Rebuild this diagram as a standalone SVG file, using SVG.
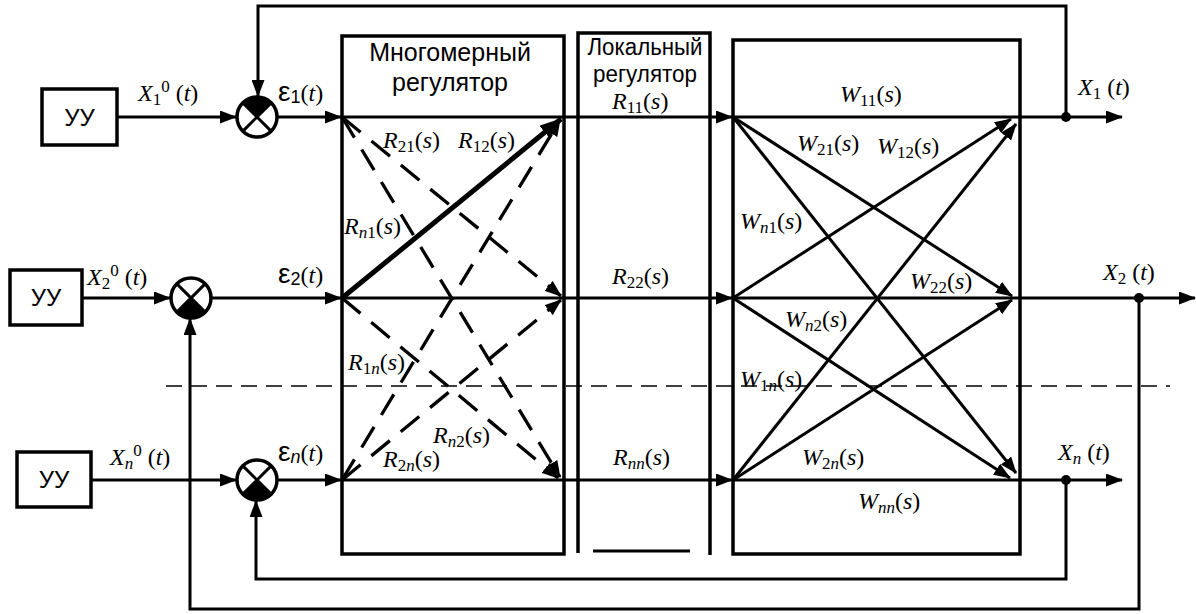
<svg xmlns="http://www.w3.org/2000/svg" width="1196" height="614" viewBox="0 0 1196 614">
<style>
.ln{fill:none;stroke:#000;stroke-width:3}
.bx{fill:none;stroke:#000;stroke-width:3.5}
.ds{fill:none;stroke:#000;stroke-width:3.3;stroke-dasharray:24 14}
.th{fill:none;stroke:#000;stroke-width:5}
.hd{fill:none;stroke:#000;stroke-width:1.5;stroke-dasharray:16 9}
.m{font-family:"Liberation Serif","Times New Roman",serif;font-size:24px;fill:#000}
.i{font-style:italic}
.sb{font-size:17px}
.sn{font-family:"Liberation Sans",Arial,sans-serif;fill:#000}
.eps{font-size:28px}
.es{font-size:18px}
</style>
<defs>
<marker id="ah" viewBox="0 0 17 13" refX="16" refY="6.5" markerWidth="17" markerHeight="13" markerUnits="userSpaceOnUse" orient="auto"><path d="M0,0 L17,6.5 L0,13 z" fill="#000"/></marker>
<marker id="ahb" viewBox="0 0 22 17" refX="21" refY="8.5" markerWidth="22" markerHeight="17" markerUnits="userSpaceOnUse" orient="auto"><path d="M0,0 L22,8.5 L0,17 z" fill="#000"/></marker>
</defs>
<rect width="1196" height="614" fill="#fff"/>

<!-- boxes -->
<g id="uu1"><rect class="bx" x="42" y="89" width="75" height="56"/><text class="sn" x="79.5" y="126" font-size="24" text-anchor="middle">УУ</text></g>
<g id="uu2"><rect class="bx" x="10" y="270" width="72" height="55"/><text class="sn" x="46" y="306" font-size="24" text-anchor="middle">УУ</text></g>
<g id="uun"><rect class="bx" x="17" y="452" width="74" height="55"/><text class="sn" x="54" y="488" font-size="24" text-anchor="middle">УУ</text></g>

<g id="sum1"><circle cx="257" cy="117" r="20" fill="#fff" stroke="#000" stroke-width="3.5"/><path d="M257,117 L242.9,102.9 A20,20 0 0 1 271.1,102.9 Z" fill="#000"/><path class="ln" d="M242.9,102.9 L271.1,131.1 M271.1,102.9 L242.9,131.1"/></g>
<g id="sum2"><circle cx="191" cy="298" r="20" fill="#fff" stroke="#000" stroke-width="3.5"/><path d="M191,298 L205.1,312.1 A20,20 0 0 1 176.9,312.1 Z" fill="#000"/><path class="ln" d="M176.9,283.9 L205.1,312.1 M205.1,283.9 L176.9,312.1"/></g>
<g id="sumn"><circle cx="257" cy="480" r="20" fill="#fff" stroke="#000" stroke-width="3.5"/><path d="M257,480 L271.1,494.1 A20,20 0 0 1 242.9,494.1 Z" fill="#000"/><path class="ln" d="M242.9,465.9 L271.1,494.1 M271.1,465.9 L242.9,494.1"/></g>

<g id="reg-multi"><rect class="bx" x="342" y="36" width="222" height="518"/>
<text class="sn" x="450" y="61" font-size="25" text-anchor="middle">Многомерный</text>
<text class="sn" x="450" y="91" font-size="25" text-anchor="middle">регулятор</text></g>

<g id="reg-local"><path class="bx" d="M578,553 V33 H710 V555"/><path class="ln" d="M593,551 H690"/>
<text class="sn" x="645" y="55" font-size="23" text-anchor="middle" textLength="115" lengthAdjust="spacingAndGlyphs">Локальный</text>
<text class="sn" x="645" y="82" font-size="23" text-anchor="middle" textLength="104" lengthAdjust="spacingAndGlyphs">регулятор</text></g>

<g id="plant"><rect class="bx" x="733" y="40" width="287" height="514"/></g>

<!-- connectors -->
<g id="connectors">
<path class="hd" d="M166,386 H1170"/>
<!-- row 1 -->
<path class="ln" d="M117,117 H236" marker-end="url(#ah)"/>
<path class="ln" d="M278,117 H341" marker-end="url(#ah)"/>
<path class="ln" d="M342,117 H732" marker-end="url(#ah)"/>
<path class="ln" d="M733,117 H1122" marker-end="url(#ah)"/>
<!-- row 2 -->
<path class="ln" d="M82,298 H170" marker-end="url(#ah)"/>
<path class="ln" d="M212,298 H341" marker-end="url(#ah)"/>
<path class="ln" d="M342,298 H732" marker-end="url(#ah)"/>
<path class="ln" d="M733,298 H1195" marker-end="url(#ah)"/>
<!-- row n -->
<path class="ln" d="M91,480 H236" marker-end="url(#ah)"/>
<path class="ln" d="M278,480 H341" marker-end="url(#ah)"/>
<path class="ln" d="M342,480 H732" marker-end="url(#ah)"/>
<path class="ln" d="M733,480 H1122" marker-end="url(#ah)"/>
<!-- feedback -->
<path class="ln" d="M1066,117 V6 H258 V96" marker-end="url(#ah)"/>
<path class="ln" d="M1139,298 V609 H190 V319" marker-end="url(#ah)"/>
<path class="ln" d="M1066,480 V579 H256 V501" marker-end="url(#ah)"/>
<circle cx="1066" cy="117" r="5"/>
<circle cx="1139" cy="298" r="5"/>
<circle cx="1066" cy="480" r="5"/>
<!-- multivariable regulator cross links -->
<path class="th" d="M342,298 L561,119" marker-end="url(#ahb)"/>
<path class="ds" d="M342,117 L561,296" marker-end="url(#ah)"/>
<path class="ds" d="M342,117 L560,477" marker-end="url(#ah)"/>
<path class="ds" d="M342,298 L558,478" marker-end="url(#ah)"/>
<path class="ds" d="M342,480 L561,300" marker-end="url(#ah)"/>
<path class="ds" d="M342,480 L560,120" marker-end="url(#ah)"/>
<!-- plant cross links -->
<path class="ln" d="M733,117 L1012,296" marker-end="url(#ah)"/>
<path class="ln" d="M733,117 L1016,473" marker-end="url(#ah)"/>
<path class="ln" d="M733,298 L1011,119" marker-end="url(#ah)"/>
<path class="ln" d="M733,298 L1010,478" marker-end="url(#ah)"/>
<path class="ln" d="M733,480 L1016,124" marker-end="url(#ah)"/>
<path class="ln" d="M733,480 L1012,300" marker-end="url(#ah)"/>
</g>

<!-- labels -->
<g id="labels">
<text class="m" x="138" y="101"><tspan class="i">X</tspan><tspan class="sb" dy="4">1</tspan><tspan class="sb" dy="-13">0</tspan><tspan dy="9"> (</tspan><tspan class="i">t</tspan>)</text>
<text class="m" x="87" y="285"><tspan class="i">X</tspan><tspan class="sb" dy="4">2</tspan><tspan class="sb" dy="-13">0</tspan><tspan dy="9"> (</tspan><tspan class="i">t</tspan>)</text>
<text class="m" x="110" y="465"><tspan class="i">X</tspan><tspan class="sb i" dy="4">n</tspan><tspan class="sb" dy="-13">0</tspan><tspan dy="9"> (</tspan><tspan class="i">t</tspan>)</text>

<text class="m" x="278" y="101"><tspan class="sn eps">ε</tspan><tspan class="sn es" dy="2">1</tspan><tspan dy="-2">(</tspan><tspan class="i">t</tspan>)</text>
<text class="m" x="278" y="283"><tspan class="sn eps">ε</tspan><tspan class="sn es" dy="2">2</tspan><tspan dy="-2">(</tspan><tspan class="i">t</tspan>)</text>
<text class="m" x="278" y="461"><tspan class="sn eps">ε</tspan><tspan class="sn es i" dy="2">n</tspan><tspan dy="-2">(</tspan><tspan class="i">t</tspan>)</text>

<text class="m" x="383" y="148"><tspan class="i">R</tspan><tspan class="sb" dy="4">21</tspan><tspan dy="-4">(</tspan><tspan class="i">s</tspan>)</text>
<text class="m" x="458" y="148"><tspan class="i">R</tspan><tspan class="sb" dy="4">12</tspan><tspan dy="-4">(</tspan><tspan class="i">s</tspan>)</text>
<text class="m" x="344" y="234"><tspan class="i">R</tspan><tspan class="sb" dy="4"><tspan class="i">n</tspan>1</tspan><tspan dy="-4">(</tspan><tspan class="i">s</tspan>)</text>
<text class="m" x="348" y="370"><tspan class="i">R</tspan><tspan class="sb" dy="4">1<tspan class="i">n</tspan></tspan><tspan dy="-4">(</tspan><tspan class="i">s</tspan>)</text>
<text class="m" x="433" y="443"><tspan class="i">R</tspan><tspan class="sb" dy="4"><tspan class="i">n</tspan>2</tspan><tspan dy="-4">(</tspan><tspan class="i">s</tspan>)</text>
<text class="m" x="383" y="467"><tspan class="i">R</tspan><tspan class="sb" dy="4">2<tspan class="i">n</tspan></tspan><tspan dy="-4">(</tspan><tspan class="i">s</tspan>)</text>

<text class="m" x="612" y="109"><tspan class="i">R</tspan><tspan class="sb" dy="4">11</tspan><tspan dy="-4">(</tspan><tspan class="i">s</tspan>)</text>
<text class="m" x="612" y="284"><tspan class="i">R</tspan><tspan class="sb" dy="4">22</tspan><tspan dy="-4">(</tspan><tspan class="i">s</tspan>)</text>
<text class="m" x="613" y="465"><tspan class="i">R</tspan><tspan class="sb i" dy="4">nn</tspan><tspan dy="-4">(</tspan><tspan class="i">s</tspan>)</text>

<text class="m" x="840" y="102"><tspan class="i">W</tspan><tspan class="sb" dy="4">11</tspan><tspan dy="-4">(</tspan><tspan class="i">s</tspan>)</text>
<text class="m" x="797" y="151"><tspan class="i">W</tspan><tspan class="sb" dy="4">21</tspan><tspan dy="-4">(</tspan><tspan class="i">s</tspan>)</text>
<text class="m" x="877" y="154"><tspan class="i">W</tspan><tspan class="sb" dy="4">12</tspan><tspan dy="-4">(</tspan><tspan class="i">s</tspan>)</text>
<text class="m" x="740" y="229"><tspan class="i">W</tspan><tspan class="sb" dy="4"><tspan class="i">n</tspan>1</tspan><tspan dy="-4">(</tspan><tspan class="i">s</tspan>)</text>
<text class="m" x="910" y="289"><tspan class="i">W</tspan><tspan class="sb" dy="4">22</tspan><tspan dy="-4">(</tspan><tspan class="i">s</tspan>)</text>
<text class="m" x="785" y="327"><tspan class="i">W</tspan><tspan class="sb" dy="4"><tspan class="i">n</tspan>2</tspan><tspan dy="-4">(</tspan><tspan class="i">s</tspan>)</text>
<text class="m" x="740" y="387"><tspan class="i">W</tspan><tspan class="sb" dy="4">1<tspan class="i">n</tspan></tspan><tspan dy="-4">(</tspan><tspan class="i">s</tspan>)</text>
<text class="m" x="802" y="465"><tspan class="i">W</tspan><tspan class="sb" dy="4">2<tspan class="i">n</tspan></tspan><tspan dy="-4">(</tspan><tspan class="i">s</tspan>)</text>
<text class="m" x="858" y="509"><tspan class="i">W</tspan><tspan class="sb i" dy="4">nn</tspan><tspan dy="-4">(</tspan><tspan class="i">s</tspan>)</text>

<text class="m" x="1078" y="95"><tspan class="i">X</tspan><tspan class="sb" dy="4">1</tspan><tspan dy="-4"> (</tspan><tspan class="i">t</tspan>)</text>
<text class="m" x="1103" y="280"><tspan class="i">X</tspan><tspan class="sb" dy="4">2</tspan><tspan dy="-4"> (</tspan><tspan class="i">t</tspan>)</text>
<text class="m" x="1058" y="460"><tspan class="i">X</tspan><tspan class="sb i" dy="4">n</tspan><tspan dy="-4"> (</tspan><tspan class="i">t</tspan>)</text>
</g>
</svg>
